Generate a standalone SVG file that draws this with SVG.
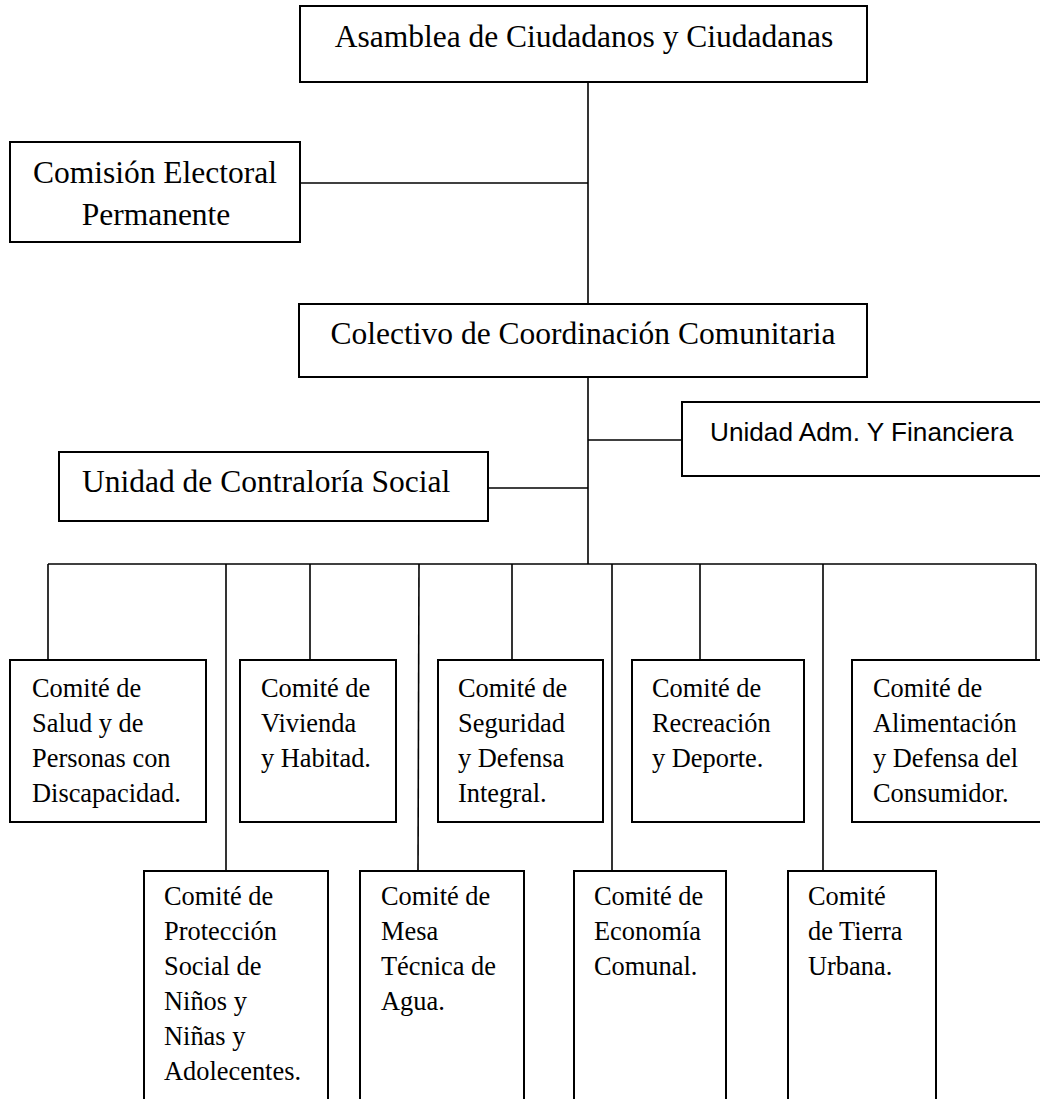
<svg xmlns="http://www.w3.org/2000/svg" width="1040" height="1099" viewBox="0 0 1040 1099">
<style>
.box{fill:#fff;stroke:#000;stroke-width:2}
.ln{stroke:#000;stroke-width:1.6;fill:none}
.t{font-family:"Liberation Serif","Times New Roman",serif;font-size:31.5px;fill:#000}
.tc{font-family:"Liberation Serif","Times New Roman",serif;font-size:26.4px;fill:#000}
.ts{font-family:"Liberation Sans",Arial,sans-serif;font-size:26.2px;fill:#000}
</style>
<rect width="1040" height="1099" fill="#fff"/>
<g id="connectors">
<line class="ln" x1="588" y1="82" x2="588" y2="564"/>
<line class="ln" x1="298" y1="183" x2="588" y2="183"/>
<line class="ln" x1="588" y1="440" x2="682" y2="440"/>
<line class="ln" x1="488" y1="488" x2="588" y2="488"/>
<line class="ln" x1="48" y1="564" x2="1036" y2="564"/>
<line class="ln" x1="48" y1="564" x2="48" y2="660"/>
<line class="ln" x1="226" y1="564" x2="226" y2="871"/>
<line class="ln" x1="310" y1="564" x2="310" y2="660"/>
<line class="ln" x1="419" y1="564" x2="418" y2="871"/>
<line class="ln" x1="512" y1="564" x2="512" y2="660"/>
<line class="ln" x1="612" y1="564" x2="612" y2="871"/>
<line class="ln" x1="700" y1="564" x2="700" y2="660"/>
<line class="ln" x1="823" y1="564" x2="823" y2="871"/>
<line class="ln" x1="1036" y1="564" x2="1036" y2="660"/>
</g>
<g id="asamblea">
<rect class="box" x="300" y="6" width="567" height="76"/>
<text class="t" x="584" y="47" text-anchor="middle">Asamblea de Ciudadanos y Ciudadanas</text>
</g>
<g id="comision">
<rect class="box" x="10" y="142" width="290" height="100"/>
<text class="t" x="155" y="183" text-anchor="middle">Comisión Electoral</text>
<text class="t" x="156" y="225" text-anchor="middle">Permanente</text>
</g>
<g id="colectivo">
<rect class="box" x="299" y="304" width="568" height="73"/>
<text class="t" x="583" y="344" text-anchor="middle">Colectivo de Coordinación Comunitaria</text>
</g>
<g id="adm">
<rect class="box" x="682" y="402" width="362" height="74"/>
<text class="ts" x="710" y="441">Unidad Adm. Y Financiera</text>
</g>
<g id="contraloria">
<rect class="box" x="59" y="452" width="429" height="69"/>
<text class="t" x="82" y="492">Unidad de Contraloría Social</text>
</g>
<g id="salud">
<rect class="box" x="10" y="660" width="196" height="162"/>
<text class="tc" x="32" y="697">Comité de</text>
<text class="tc" x="32" y="732">Salud y de</text>
<text class="tc" x="32" y="767">Personas con</text>
<text class="tc" x="32" y="802">Discapacidad.</text>
</g>
<g id="vivienda">
<rect class="box" x="240" y="660" width="156" height="162"/>
<text class="tc" x="261" y="697">Comité de</text>
<text class="tc" x="261" y="732">Vivienda</text>
<text class="tc" x="261" y="767">y Habitad.</text>
</g>
<g id="seguridad">
<rect class="box" x="438" y="660" width="165" height="162"/>
<text class="tc" x="458" y="697">Comité de</text>
<text class="tc" x="458" y="732">Seguridad</text>
<text class="tc" x="458" y="767">y Defensa</text>
<text class="tc" x="458" y="802">Integral.</text>
</g>
<g id="recreacion">
<rect class="box" x="632" y="660" width="172" height="162"/>
<text class="tc" x="652" y="697">Comité de</text>
<text class="tc" x="652" y="732">Recreación</text>
<text class="tc" x="652" y="767">y Deporte.</text>
</g>
<g id="alimentacion">
<rect class="box" x="852" y="660" width="192" height="162"/>
<text class="tc" x="873" y="697">Comité de</text>
<text class="tc" x="873" y="732">Alimentación</text>
<text class="tc" x="873" y="767">y Defensa del</text>
<text class="tc" x="873" y="802">Consumidor.</text>
</g>
<g id="proteccion">
<rect class="box" x="144" y="871" width="184" height="240"/>
<text class="tc" x="164" y="905">Comité de</text>
<text class="tc" x="164" y="940">Protección</text>
<text class="tc" x="164" y="975">Social de</text>
<text class="tc" x="164" y="1010">Niños y</text>
<text class="tc" x="164" y="1045">Niñas y</text>
<text class="tc" x="164" y="1080">Adolecentes.</text>
</g>
<g id="agua">
<rect class="box" x="360" y="871" width="164" height="240"/>
<text class="tc" x="381" y="905">Comité de</text>
<text class="tc" x="381" y="940">Mesa</text>
<text class="tc" x="381" y="975">Técnica de</text>
<text class="tc" x="381" y="1010">Agua.</text>
</g>
<g id="economia">
<rect class="box" x="574" y="871" width="152" height="240"/>
<text class="tc" x="594" y="905">Comité de</text>
<text class="tc" x="594" y="940">Economía</text>
<text class="tc" x="594" y="975">Comunal.</text>
</g>
<g id="tierra">
<rect class="box" x="788" y="871" width="148" height="240"/>
<text class="tc" x="808" y="905">Comité</text>
<text class="tc" x="808" y="940">de Tierra</text>
<text class="tc" x="808" y="975">Urbana.</text>
</g>
</svg>
